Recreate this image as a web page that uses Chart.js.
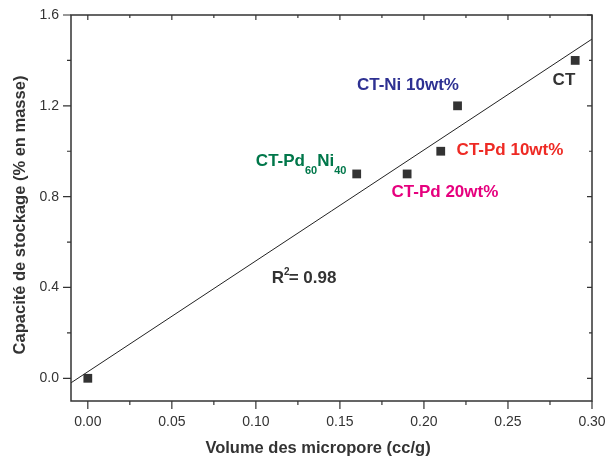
<!DOCTYPE html>
<html>
<head>
<meta charset="utf-8">
<script src="https://cdn.jsdelivr.net/npm/chart.js@4.4.1/dist/chart.umd.min.js"></script>
<style>
  html, body { margin: 0; padding: 0; background: #fff; }
  #wrap { width: 609px; height: 463px; }
</style>
</head>
<body>
<div id="wrap"><canvas id="c" width="609" height="463"></canvas></div>
<script>
// ---- data ----
const samples = ['CT', 'CT-Pd60Ni40', 'CT-Pd 20wt%', 'CT-Pd 10wt%', 'CT-Ni 10wt%', 'CT'];
const microporeVolume = [0.00, 0.16, 0.19, 0.21, 0.22, 0.29];
const storageCapacity = [0.00, 0.90, 0.90, 1.00, 1.20, 1.40];
const fitX = [-0.01, 0.30];
const fitY = [-0.02, 1.494];
const xTicks = [0.00, 0.05, 0.10, 0.15, 0.20, 0.25, 0.30];
const xMinorTicks = [0.025, 0.075, 0.125, 0.175, 0.225, 0.275];
const yTicks = [0.0, 0.4, 0.8, 1.2, 1.6];
const yMinorTicks = [0.2, 0.6, 1.0, 1.4];
const xTitle = 'Volume des micropore (cc/g)';
const yTitle = 'Capacité de stockage (% en masse)';

// annotation texts (anchored in data coordinates)
const notes = [
  { text: 'CT-Ni 10wt%', x: 0.1905, y: 1.296, color: '#2e3192', align: 'center' },
  { text: 'CT', x: 0.2833, y: 1.316, color: '#333333', align: 'center' },
  { text: 'CT-Pd 10wt%', x: 0.2512, y: 1.007, color: '#ee2a24', align: 'center' },
  { text: 'CT-Pd 20wt%', x: 0.2125, y: 0.824, color: '#e6007e', align: 'center' },
];
const alloyNote = { parts: [['CT-Pd', false], ['60', true], ['Ni', false], ['40', true]], x: 0.100, y: 0.9586, color: '#00774a' };
const r2Note = { x: 0.1095, y: 0.445, color: '#333333', value: '= 0.98' };

const FONT = '"Liberation Sans", Arial, Helvetica, sans-serif';
const AXIS = '#333333';

const framePlugin = {
  id: 'frame',
  afterDraw(chart) {
    const { ctx, chartArea: a, scales: { x, y } } = chart;
    ctx.save();
    ctx.strokeStyle = AXIS;
    ctx.lineWidth = 1.5;
    ctx.strokeRect(a.left, a.top, a.right - a.left, a.bottom - a.top);
    ctx.lineWidth = 1.2;
    ctx.beginPath();
    xTicks.forEach(v => {
      const px = x.getPixelForValue(v);
      ctx.moveTo(px, a.bottom); ctx.lineTo(px, a.bottom + 8);
      ctx.moveTo(px, a.top); ctx.lineTo(px, a.top + 5);
    });
    xMinorTicks.forEach(v => {
      const px = x.getPixelForValue(v);
      ctx.moveTo(px, a.bottom); ctx.lineTo(px, a.bottom + 4);
      ctx.moveTo(px, a.top); ctx.lineTo(px, a.top + 3);
    });
    yTicks.forEach(v => {
      const py = y.getPixelForValue(v);
      ctx.moveTo(a.left, py); ctx.lineTo(a.left - 8, py);
      ctx.moveTo(a.right, py); ctx.lineTo(a.right - 5, py);
    });
    yMinorTicks.forEach(v => {
      const py = y.getPixelForValue(v);
      ctx.moveTo(a.left, py); ctx.lineTo(a.left - 4, py);
      ctx.moveTo(a.right, py); ctx.lineTo(a.right - 3, py);
    });
    ctx.stroke();

    // axis titles
    ctx.fillStyle = AXIS;
    ctx.font = 'bold 16.5px ' + FONT;
    ctx.textAlign = 'center';
    ctx.textBaseline = 'middle';
    ctx.fillText(xTitle, 318, 448);
    ctx.save();
    ctx.translate(20, 215);
    ctx.rotate(-Math.PI / 2);
    ctx.fillText(yTitle, 0, 0);
    ctx.restore();

    // annotations
    ctx.font = 'bold 17px ' + FONT;
    notes.forEach(n => {
      ctx.fillStyle = n.color;
      ctx.textAlign = n.align;
      ctx.fillText(n.text, x.getPixelForValue(n.x), y.getPixelForValue(n.y) + 1);
    });
    // alloy label with subscripts
    let px = x.getPixelForValue(alloyNote.x);
    const py = y.getPixelForValue(alloyNote.y) + 1;
    ctx.fillStyle = alloyNote.color;
    ctx.textAlign = 'left';
    alloyNote.parts.forEach(([t, sub]) => {
      ctx.font = (sub ? 'bold 11px ' : 'bold 17px ') + FONT;
      ctx.fillText(t, px, sub ? py + 9 : py);
      px += ctx.measureText(t).width;
    });
    // R^2
    let rx = x.getPixelForValue(r2Note.x);
    const ry = y.getPixelForValue(r2Note.y) + 1;
    ctx.fillStyle = r2Note.color;
    ctx.font = 'bold 17px ' + FONT;
    ctx.fillText('R', rx, ry);
    rx += ctx.measureText('R').width;
    ctx.font = 'bold 10px ' + FONT;
    ctx.fillText('2', rx, ry - 6);
    rx += ctx.measureText('2').width - 1;
    ctx.font = 'bold 17px ' + FONT;
    ctx.fillText(r2Note.value, rx, ry);
    ctx.restore();
  }
};

new Chart(document.getElementById('c'), {
  type: 'scatter',
  data: {
    datasets: [
      {
        label: 'Échantillons',
        data: microporeVolume.map((v, i) => ({ x: v, y: storageCapacity[i] })),
        pointStyle: 'rect',
        pointRadius: 6.2,
        pointHoverRadius: 6.2,
        backgroundColor: '#333333',
        borderColor: '#333333',
        borderWidth: 0
      },
      {
        type: 'line',
        label: 'Régression linéaire',
        data: fitX.map((v, i) => ({ x: v, y: fitY[i] })),
        borderColor: '#222222',
        borderWidth: 1,
        pointRadius: 0,
        fill: false
      }
    ]
  },
  options: {
    responsive: false,
    animation: false,
    devicePixelRatio: 1,
    layout: { padding: { top: 15, right: 17, left: 0, bottom: 0 } },
    plugins: { legend: { display: false }, tooltip: { enabled: false } },
    scales: {
      x: {
        type: 'linear',
        min: -0.01,
        max: 0.30,
        afterBuildTicks: s => { s.ticks = xTicks.map(v => ({ value: v })); },
        afterFit: s => { s.height = 62; s.paddingLeft = 0; s.paddingRight = 0; },
        grid: { display: false, drawTicks: false },
        border: { display: false },
        ticks: {
          padding: 13,
          color: '#333333',
          font: { family: FONT, size: 14 },
          callback: v => v.toFixed(2)
        }
      },
      y: {
        type: 'linear',
        min: -0.1,
        max: 1.6,
        afterBuildTicks: s => { s.ticks = yTicks.map(v => ({ value: v })); },
        afterFit: s => { s.width = 71; s.paddingTop = 0; s.paddingBottom = 0; },
        grid: { display: false, drawTicks: false },
        border: { display: false },
        ticks: {
          padding: 12,
          color: '#333333',
          font: { family: FONT, size: 14 },
          callback: v => v.toFixed(1)
        }
      }
    }
  },
  plugins: [framePlugin]
});
</script>
</body>
</html>
